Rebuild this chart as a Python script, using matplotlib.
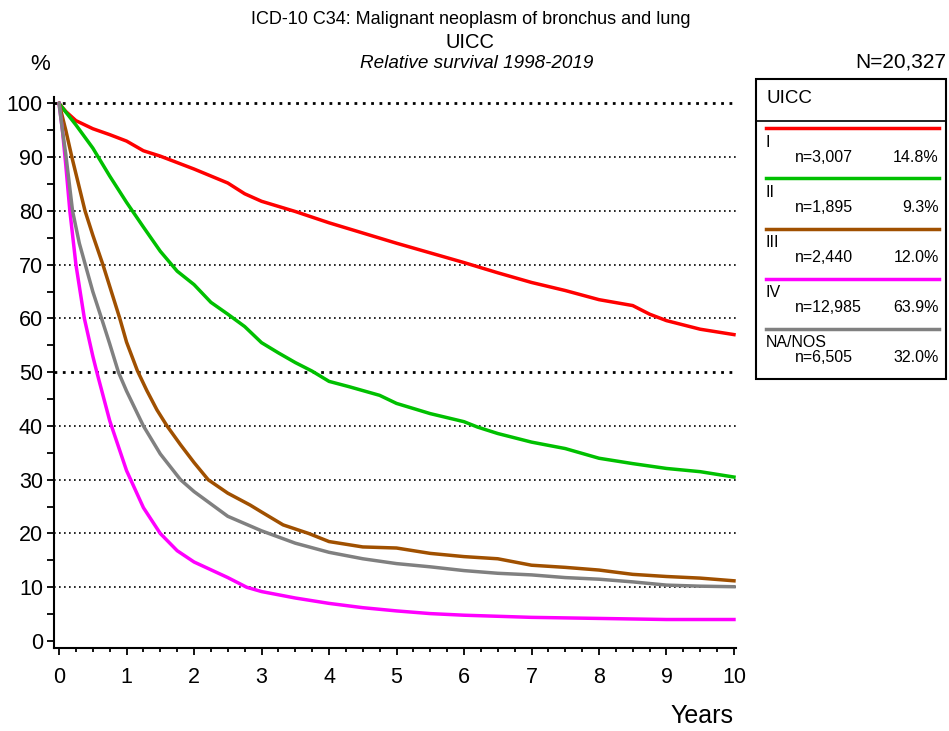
import matplotlib
matplotlib.use("Agg")
import matplotlib.pyplot as plt
from matplotlib.lines import Line2D
from matplotlib.patches import Rectangle
from matplotlib.ticker import MultipleLocator

plt.rcParams["font.family"] = ["Liberation Sans", "DejaVu Sans"]

# Data (years, relative survival %)
stages = ["I", "II", "III", "IV", "NA/NOS"]
counts = ["n=3,007", "n=1,895", "n=2,440", "n=12,985", "n=6,505"]
shares = ["14.8%", "9.3%", "12.0%", "63.9%", "32.0%"]
colors = ["#ff0000", "#00c000", "#a05000", "#ff00ff", "#808080"]

t_I = [0, 0.1, 0.25, 0.5, 0.75, 1, 1.25, 1.5, 1.75, 2, 2.25, 2.5, 2.75, 3,
       3.5, 4, 4.5, 5, 5.5, 6, 6.5, 7, 7.5, 8, 8.5, 8.75, 9, 9.5, 10]
s_I = [100, 98.5, 96.8, 95.3, 94.2, 93.0, 91.2, 90.2, 89.0, 87.8, 86.5, 85.2,
       83.2, 81.8, 79.9, 77.8, 75.9, 74.0, 72.2, 70.4, 68.5, 66.7, 65.2, 63.5,
       62.4, 60.8, 59.6, 58.0, 57.0]

t_II = [0, 0.25, 0.5, 0.75, 1, 1.25, 1.5, 1.75, 2, 2.25, 2.5, 2.75, 3, 3.25,
        3.5, 3.75, 4, 4.3, 4.75, 5, 5.5, 6, 6.2, 6.5, 7, 7.5, 8, 8.5, 9, 9.5, 10]
s_II = [100, 96.0, 91.7, 86.5, 81.6, 77.0, 72.5, 68.8, 66.3, 63.0, 60.8, 58.5,
        55.5, 53.6, 51.8, 50.2, 48.3, 47.3, 45.7, 44.2, 42.3, 40.8, 39.8, 38.6,
        37.0, 35.8, 34.0, 33.0, 32.1, 31.5, 30.5]

t_III = [0, 0.1, 0.19, 0.385, 0.5, 0.65, 0.9, 1, 1.16, 1.3, 1.45, 1.6, 1.8, 2,
         2.21, 2.5, 2.83, 3, 3.32, 3.7, 4, 4.5, 5, 5.5, 6, 6.5, 7, 7.5, 8, 8.5,
         9, 9.5, 10]
s_III = [100, 95.0, 90.0, 80.0, 75.5, 70.0, 60.0, 55.6, 50.3, 46.6, 43.0, 40.0,
         36.5, 33.2, 30.0, 27.5, 25.3, 24.0, 21.6, 20.0, 18.5, 17.5, 17.3, 16.3,
         15.7, 15.3, 14.1, 13.7, 13.2, 12.4, 12.0, 11.7, 11.2]

t_IV = [0, 0.05, 0.1, 0.16, 0.25, 0.375, 0.5, 0.56, 0.75, 1, 1.25, 1.5, 1.75,
        2, 2.5, 2.78, 3, 3.5, 4, 4.5, 5, 5.5, 6, 7, 8, 9, 10]
s_IV = [100, 95.0, 88.5, 80.0, 70.0, 60.0, 53.0, 50.0, 41.0, 31.7, 24.8, 20.0,
        16.8, 14.7, 11.8, 10.0, 9.2, 8.0, 7.0, 6.2, 5.6, 5.1, 4.8, 4.4, 4.2,
        4.0, 4.0]

t_NA = [0, 0.05, 0.1, 0.2, 0.3, 0.4, 0.5, 0.63, 0.75, 0.88, 1, 1.25, 1.5, 1.8,
        2, 2.5, 3, 3.5, 4, 4.5, 5, 5.5, 6, 6.5, 7, 7.5, 8, 8.5, 9, 9.5, 10]
s_NA = [100, 95.0, 90.5, 80.0, 74.0, 69.5, 65.0, 60.0, 55.3, 50.0, 46.5, 40.0,
        34.8, 30.0, 27.8, 23.2, 20.5, 18.2, 16.5, 15.3, 14.4, 13.8, 13.1, 12.6,
        12.3, 11.8, 11.5, 11.0, 10.4, 10.2, 10.1]

times = [t_I, t_II, t_III, t_IV, t_NA]
survival = [s_I, s_II, s_III, s_IV, s_NA]

W, H = 949, 731
fig = plt.figure(figsize=(W / 100, H / 100), dpi=100)
ax = fig.add_axes([54 / W, 1 - 648 / H, (736 - 54) / W, (648 - 97) / H])

# dotted reference lines
for v in range(10, 101, 10):
    lw = 2.0 if v in (50, 100) else 1.2
    ax.axhline(v, color="black", linestyle=(0, (1, 2)), lw=lw, zorder=1)

for t, s, c in zip(times, survival, colors):
    ax.plot(t, s, color=c, lw=2.5, zorder=3, solid_joinstyle="round")

ax.set_xlim(-0.075, 10.03)
ax.set_ylim(-1.3, 101.2)
ax.xaxis.set_major_locator(MultipleLocator(1))
ax.xaxis.set_minor_locator(MultipleLocator(0.25))
ax.yaxis.set_major_locator(MultipleLocator(10))
ax.yaxis.set_minor_locator(MultipleLocator(5))
for side in ("top", "right"):
    ax.spines[side].set_visible(False)
for side in ("left", "bottom"):
    ax.spines[side].set_linewidth(1.5)
ax.tick_params(axis="both", which="major", labelsize=15.5, width=1.3, length=5)
ax.tick_params(axis="y", which="minor", width=1.3, length=5)
ax.tick_params(axis="x", which="minor", width=1.3, length=3)
ax.tick_params(axis="x", which="major", pad=9)
ax.tick_params(axis="y", which="major", pad=3)

# titles and axis captions
fig.text(471 / W, 1 - 20 / H, "ICD-10 C34: Malignant neoplasm of bronchus and lung",
         ha="center", va="center", fontsize=13)
fig.text(470 / W, 1 - 42 / H, "UICC", ha="center", va="center", fontsize=14.5)
fig.text(477 / W, 1 - 64 / H, "Relative survival 1998-2019", ha="center",
         va="center", fontsize=13.6, style="italic")
fig.text(40 / W, 1 - 65 / H, "%", ha="center", va="center", fontsize=16)
fig.text(946 / W, 1 - 62 / H, "N=20,327", ha="right", va="center", fontsize=15)
fig.text(733 / W, 1 - 716 / H, "Years", ha="right", va="center", fontsize=18)

# legend panel drawn in pixel space
lax = fig.add_axes([0, 0, 1, 1], zorder=5)
lax.set_xlim(0, W)
lax.set_ylim(H, 0)
lax.axis("off")
lax.add_patch(Rectangle((756.5, 78.5), 190, 300, fill=False, ec="black", lw=1.5))
lax.add_line(Line2D([756.5, 946.5], [120.5, 120.5], color="black", lw=1.2))
lax.text(767, 98.5, "UICC", ha="left", va="center", fontsize=13.5)
for i, (lab, n, pct, c) in enumerate(zip(stages, counts, shares, colors)):
    y0 = 128.3 + i * 50.1
    lax.add_line(Line2D([766, 939], [y0, y0], color=c, lw=2.5))
    lax.text(766, y0 + 14, lab, ha="left", va="center", fontsize=11.5)
    lax.text(795, y0 + 29, n, ha="left", va="center", fontsize=11.5)
    lax.text(939, y0 + 29, pct, ha="right", va="center", fontsize=11.5)

fig.savefig("out.png", dpi=100)
